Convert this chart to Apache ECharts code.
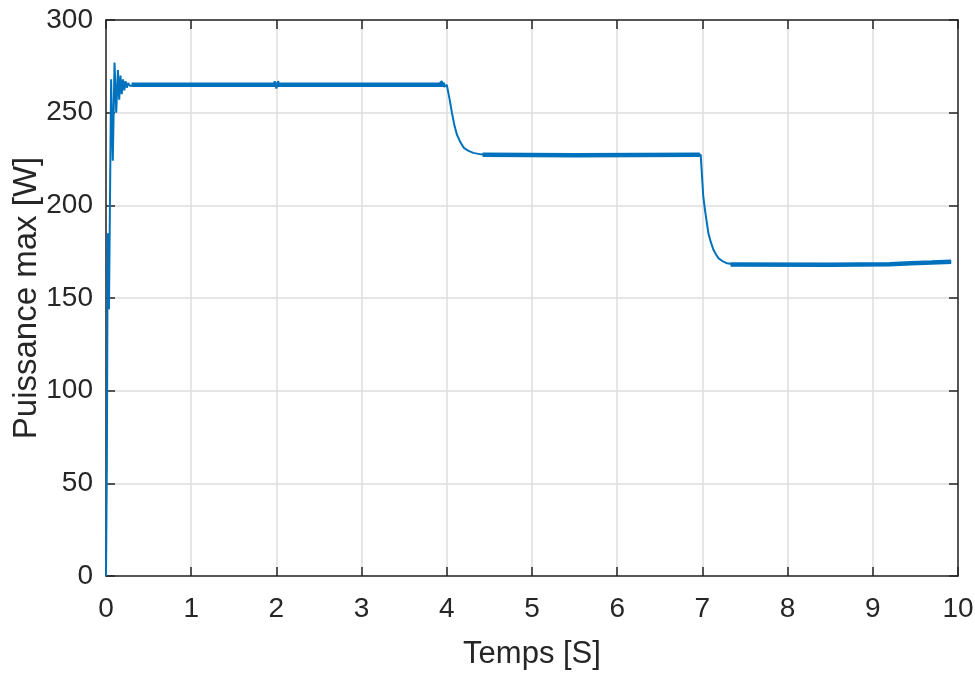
<!DOCTYPE html>
<html>
<head>
<meta charset="utf-8">
<script src="https://cdn.jsdelivr.net/npm/echarts@6/dist/echarts.min.js"></script>
<style>
html,body{margin:0;padding:0;background:#fff;}
#chart{width:975px;height:673px;}
</style>
</head>
<body>
<div id="chart"></div>
<script>
// Time (s) and power (W)
var timeS = [0, 0.01, 0.02, 0.035, 0.06, 0.08, 0.10, 0.12, 0.14, 0.155, 0.17, 0.185, 0.20, 0.215, 0.23, 0.245, 0.26, 0.28, 0.30,
  1.0, 1.97, 1.98, 2.0, 2.02, 2.04, 3.0, 3.9, 3.94, 3.97, 4.0,
  4.03, 4.06, 4.09, 4.12, 4.16, 4.20, 4.25, 4.31, 4.40, 4.50, 5.5, 6.98,
  7.01, 7.03, 7.07, 7.10, 7.13, 7.16, 7.19, 7.24, 7.29, 7.40, 8.5, 9.20, 9.21, 9.45, 9.46, 9.69, 9.70, 9.92];
var powerW = [0, 60, 185, 144, 268, 224, 277, 250, 273, 257, 270, 260, 268, 262, 267, 263.5, 266, 264.5, 265.5,
  265, 265, 267, 263, 267, 264.5, 265, 265, 267, 264, 265,
  258, 250, 243, 238, 234, 231, 229.5, 228.3, 227.5, 227, 227, 227.3,
  205, 197.5, 185, 180, 176, 173.5, 171.4, 169.8, 168.7, 168, 168, 168.2, 168.7, 168.8, 169.1, 169.2, 169.6, 169.6];
// Steady-state ripple band (drawn thicker); null separates segments
var bandT = [0.30, 1.0, 2.0, 3.0, 3.98, null, 4.42, 5.5, 6.97, null, 7.33, 8.5, 9.20, 9.21, 9.45, 9.46, 9.69, 9.70, 9.92];
var bandP = [265, 265, 265, 265, 265, null, 227.3, 227, 227.3, null, 168.1, 168, 168.2, 168.7, 168.8, 169.1, 169.2, 169.6, 169.6];

var xTicks = [0, 1, 2, 3, 4, 5, 6, 7, 8, 9, 10];
var yTicks = [0, 50, 100, 150, 200, 250, 300];

function pairs(xs, ys) {
  var out = [];
  for (var i = 0; i < xs.length; i++) out.push(xs[i] === null ? [null, null] : [xs[i], ys[i]]);
  return out;
}

var axisColor = '#262626';
var fontFam = '"Liberation Sans", Arial, Helvetica, sans-serif';
var chart = echarts.init(document.getElementById('chart'), null, {renderer: 'canvas'});
var xBase = {
  type: 'value', min: xTicks[0], max: xTicks[xTicks.length - 1], interval: 1,
  axisLine: {show: true, onZero: false, lineStyle: {color: axisColor, width: 1.5}},
  axisTick: {show: true, inside: true, length: 9, lineStyle: {color: axisColor, width: 1.5}}
};
var yBase = {
  type: 'value', min: yTicks[0], max: yTicks[yTicks.length - 1], interval: 50,
  axisLine: {show: true, onZero: false, lineStyle: {color: axisColor, width: 1.5}},
  axisTick: {show: true, inside: true, length: 9, lineStyle: {color: axisColor, width: 1.5}}
};
chart.setOption({
  animation: false,
  backgroundColor: '#ffffff',
  grid: {left: 106, right: 17, top: 20, bottom: 97, containLabel: false, outerBoundsMode: 'none'},
  xAxis: [
    Object.assign({}, xBase, {
      position: 'bottom',
      name: 'Temps [S]', nameLocation: 'middle', nameGap: 63,
      nameTextStyle: {fontFamily: fontFam, fontSize: 31, color: axisColor},
      axisLabel: {show: true, margin: 19, fontFamily: fontFam, fontSize: 28, color: axisColor},
      splitLine: {show: true, lineStyle: {color: '#dedede', width: 1.5}}
    }),
    Object.assign({}, xBase, {
      position: 'top', axisLabel: {show: false}, splitLine: {show: false}
    })
  ],
  yAxis: [
    Object.assign({}, yBase, {
      position: 'left',
      name: 'Puissance max [W]', nameLocation: 'middle', nameGap: 63, nameMoveOverlap: false,
      nameTextStyle: {fontFamily: fontFam, fontSize: 33, color: axisColor},
      axisLabel: {show: true, margin: 13, fontFamily: fontFam, fontSize: 28, color: axisColor},
      splitLine: {show: true, lineStyle: {color: '#dedede', width: 1.5}}
    }),
    Object.assign({}, yBase, {
      position: 'right', axisLabel: {show: false}, splitLine: {show: false}
    })
  ],
  series: [
    {
      name: 'P', type: 'line', xAxisIndex: 0, yAxisIndex: 0,
      data: pairs(timeS, powerW), showSymbol: false, symbol: 'none',
      lineStyle: {color: '#0072BD', width: 2}, z: 3
    },
    {
      name: 'ripple', type: 'line', xAxisIndex: 0, yAxisIndex: 0,
      data: pairs(bandT, bandP), showSymbol: false, symbol: 'none', connectNulls: false,
      lineStyle: {color: '#0072BD', width: 4.5}, z: 3
    }
  ]
});
</script>
</body>
</html>
